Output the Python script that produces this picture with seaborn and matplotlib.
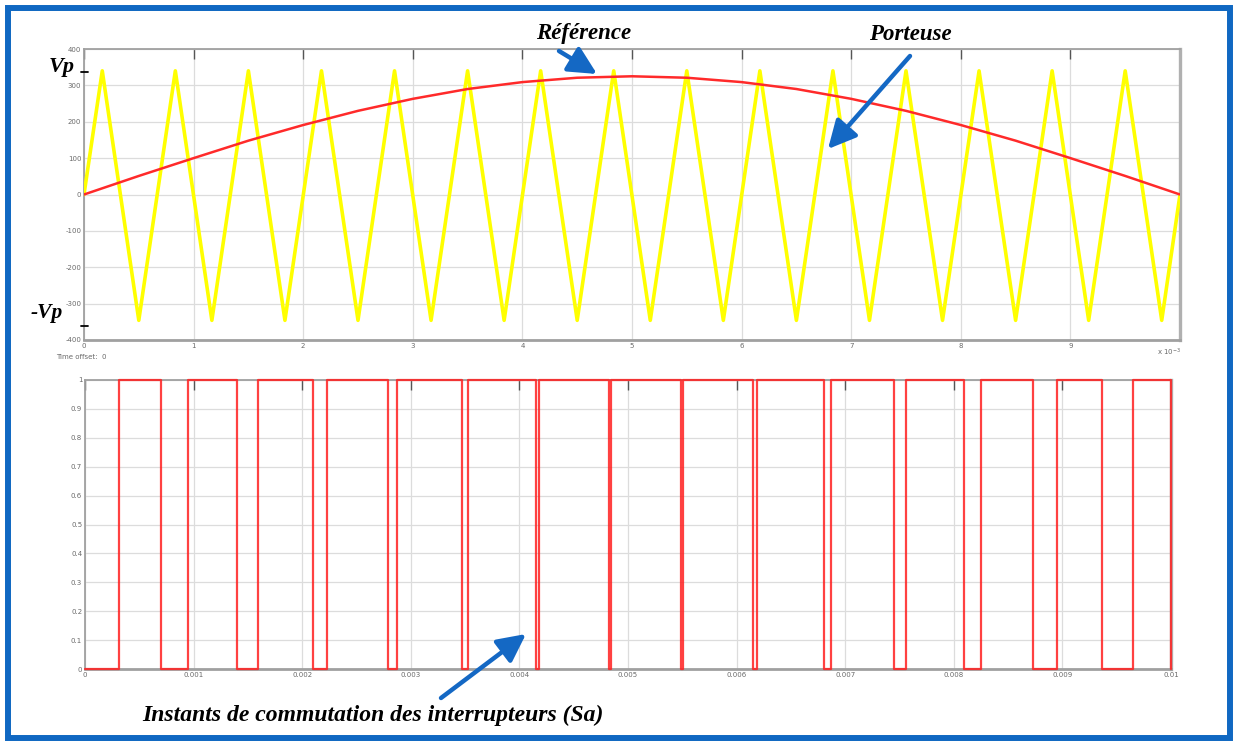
import numpy as np
import pandas as pd
import matplotlib
matplotlib.use("Agg")
import matplotlib.pyplot as plt
from matplotlib.patches import Rectangle, FancyArrowPatch
from matplotlib.lines import Line2D
import seaborn as sns

# ---- data -----------------------------------------------------------------
# reference (half sine), time in ms
ref_t = [0.0, 0.5, 1.0, 1.5, 2.0, 2.5, 3.0, 3.5, 4.0, 4.5, 5.0,
         5.5, 6.0, 6.5, 7.0, 7.5, 8.0, 8.5, 9.0, 9.5, 10.0]
ref_v = [0, 51, 100, 148, 191, 230, 263, 290, 309, 321, 325,
         321, 309, 290, 263, 230, 191, 148, 100, 51, 0]

# triangular carrier vertices, time in ms
car_t = [0.0, 0.1667, 0.5, 0.8333, 1.1667, 1.5, 1.8333, 2.1667, 2.5,
         2.8333, 3.1667, 3.5, 3.8333, 4.1667, 4.5, 4.8333, 5.1667, 5.5,
         5.8333, 6.1667, 6.5, 6.8333, 7.1667, 7.5, 7.8333, 8.1667, 8.5,
         8.8333, 9.1667, 9.5, 9.8333, 10.0]
car_v = [0, 340, -346, 340, -346, 340, -346, 340, -346,
         340, -346, 340, -346, 340, -346, 340, -346, 340,
         -346, 340, -346, 340, -346, 340, -346, 340, -346,
         340, -346, 340, -346, 0]

# switching instants of Sa, time in s
sa_on = [0.0003175, 0.0009530, 0.0015903, 0.0022306, 0.0028748, 0.0035242,
         0.0041793, 0.0048408, 0.0055094, 0.0061849, 0.0068673, 0.0075560,
         0.0082501, 0.0089482, 0.0096492]
sa_off = [0.0007015, 0.0014014, 0.0020975, 0.0027891, 0.0034747, 0.0041537,
          0.0048257, 0.0054907, 0.0061490, 0.0068012, 0.0074478, 0.0080899,
          0.0087286, 0.0093650, 0.0099990]

top_yticks = [-400, -300, -200, -100, 0, 100, 200, 300, 400]
top_xticks = [0, 1, 2, 3, 4, 5, 6, 7, 8, 9, 10]
top_xlabels = ["0", "1", "2", "3", "4", "5", "6", "7", "8", "9", ""]
bot_yticks = [0, 0.1, 0.2, 0.3, 0.4, 0.5, 0.6, 0.7, 0.8, 0.9, 1]
bot_ylabels = ["0", "0.1", "0.2", "0.3", "0.4", "0.5", "0.6", "0.7", "0.8", "0.9", "1"]
bot_xticks = [0, 0.001, 0.002, 0.003, 0.004, 0.005, 0.006, 0.007, 0.008, 0.009, 0.01]
bot_xlabels = ["0", "0.001", "0.002", "0.003", "0.004", "0.005", "0.006",
               "0.007", "0.008", "0.009", "0.01"]

# ---- step signal built from the switching instants --------------------------
st, sv = [0.0], [0]
for on, off in zip(sa_on, sa_off):
    st += [on, on, off, off]
    sv += [0, 1, 1, 0]
st.append(0.01)
sv.append(0)
sa_df = pd.DataFrame({"t": st, "Sa": sv})
ref_df = pd.DataFrame({"t": ref_t, "v": ref_v})
car_df = pd.DataFrame({"t": car_t, "v": car_v})

# ---- figure --------------------------------------------------------------
sns.set_theme(style="white")
plt.rcParams["font.family"] = ["DejaVu Sans"]

W, H = 1235, 743
fig = plt.figure(figsize=(W / 100, H / 100), dpi=100)
fig.patch.set_facecolor("white")


def fx(px):
    return px / W


def fy(py):
    return 1 - py / H


ax1 = fig.add_axes([fx(84), fy(340), fx(1180) - fx(84), fy(49) - fy(340)])
ax2 = fig.add_axes([fx(85), fy(669), fx(1171) - fx(85), fy(380) - fy(669)])

grid_c = "#dcdcdc"
tick_c = "#6a6a6a"

sns.lineplot(data=car_df, x="t", y="v", ax=ax1, color="#ffff00", lw=2.6,
             estimator=None, sort=False)
sns.lineplot(data=ref_df, x="t", y="v", ax=ax1, color="#ff2a2a", lw=1.8,
             estimator=None, sort=False)
ax1.set_xlim(0, 10)
ax1.set_ylim(-400, 400)
ax1.set_yticks(top_yticks)
ax1.set_yticklabels([str(v) for v in top_yticks])
ax1.set_xticks(top_xticks)
ax1.set_xticklabels(top_xlabels)

sns.lineplot(data=sa_df, x="t", y="Sa", ax=ax2, color="#ff2020", lw=1.6,
             alpha=0.85, estimator=None, sort=False, clip_on=False, zorder=5)
ax2.set_xlim(0, 0.01)
ax2.set_ylim(0, 1)
ax2.set_yticks(bot_yticks)
ax2.set_yticklabels(bot_ylabels)
ax2.set_xticks(bot_xticks)
ax2.set_xticklabels(bot_xlabels)

for ax in (ax1, ax2):
    ax.set_xlabel("")
    ax.set_ylabel("")
    ax.grid(True, color=grid_c, lw=0.9)
    ax.set_axisbelow(True)
    ax.tick_params(axis="both", direction="in", length=7, width=1.0,
                   color="#555555", labelsize=5, labelcolor=tick_c, pad=2,
                   top=True)
    for s in ax.spines.values():
        s.set_color("#a0a0a0")
        s.set_linewidth(1.3)
        s.set_zorder(1)
    ax.spines["right"].set_linewidth(2.4)
    ax.spines["right"].set_color("#b0b0b0")
    ax.spines["bottom"].set_linewidth(2.0)

fig.text(fx(56), fy(357), "Time offset:  0", fontsize=5, color=tick_c,
         va="center", ha="left")
fig.text(fx(1181), fy(352), "x 10$^{-3}$", fontsize=5, color=tick_c,
         va="center", ha="right")

# ---- annotations ------------------------------------------------------------
serif = dict(family=["Liberation Serif", "DejaVu Serif"], weight="bold",
             style="italic", color="black")
fig.text(fx(49), fy(67), "Vp", fontsize=16, ha="left", va="center", **serif)
fig.text(fx(31), fy(313), "-Vp", fontsize=15.5, ha="left", va="center", **serif)
fig.add_artist(Line2D([fx(81), fx(88)], [fy(72), fy(72)], color="black", lw=1.3))
fig.add_artist(Line2D([fx(81), fx(88)], [fy(326), fy(326)], color="black", lw=1.3))

fig.text(fx(584), fy(33), "Référence", fontsize=16.5, ha="center", va="center", **serif)
fig.text(fx(910), fy(34), "Porteuse", fontsize=16.5, ha="center", va="center", **serif)
fig.text(fx(373), fy(715), "Instants de commutation des interrupteurs (Sa)",
         fontsize=17, ha="center", va="center", **serif)

arrow_c = "#1468c4"
for (x0, y0), (x1, y1) in [((559, 51), (597, 74)),
                           ((910, 56), (828, 149)),
                           ((441, 698), (526, 634))]:
    fig.add_artist(FancyArrowPatch((fx(x0), fy(y0)), (fx(x1), fy(y1)),
                                   transform=fig.transFigure,
                                   arrowstyle="-|>,head_length=10,head_width=5",
                                   mutation_scale=1.7, color=arrow_c, lw=3.2,
                                   shrinkA=0, shrinkB=0))

# blue frame
fig.add_artist(Rectangle((fx(8), fy(738)), fx(1230) - fx(8), fy(8) - fy(738),
                         transform=fig.transFigure, fill=False,
                         edgecolor="#1068c2", lw=4.3))

fig.savefig("out.png", dpi=100, facecolor="white")
